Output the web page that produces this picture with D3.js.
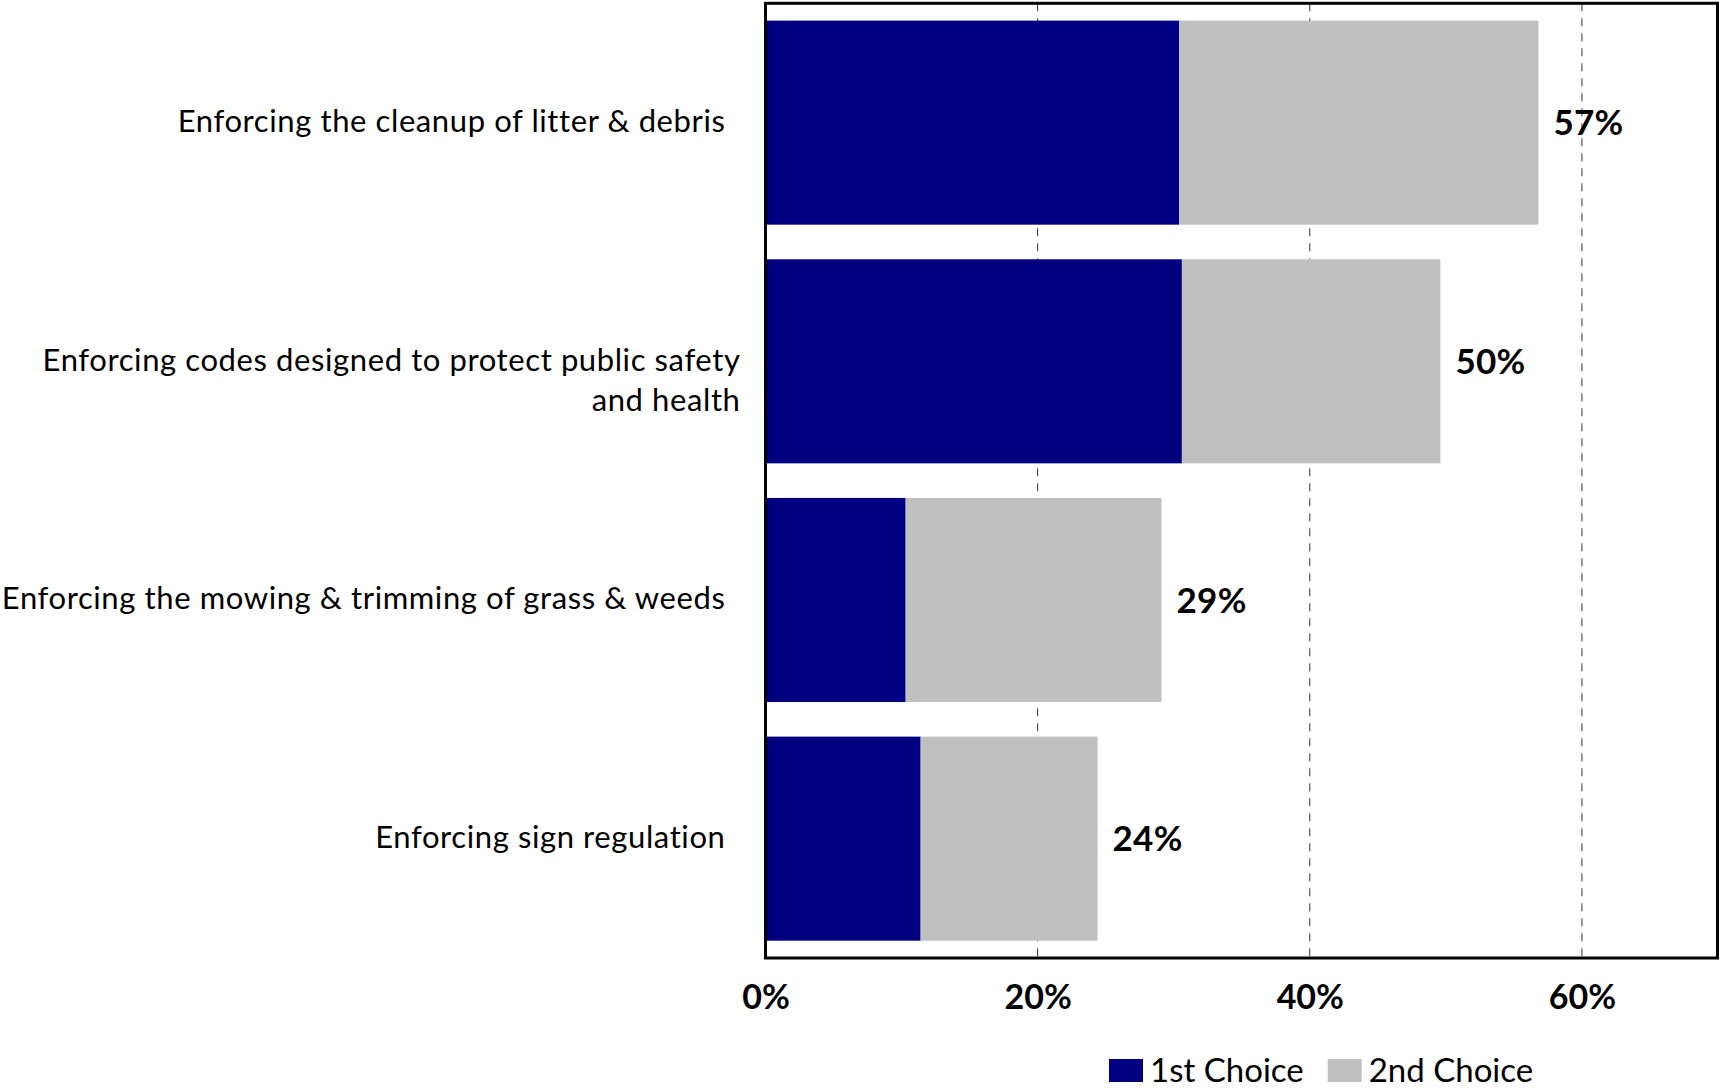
<!DOCTYPE html>
<html>
<head>
<meta charset="utf-8">
<script src="https://cdn.jsdelivr.net/npm/d3@7"></script>
<style>
    body { margin: 0; background: #fff; }
    text { font-family: Lato, "Open Sans", sans-serif; fill: #000; }
</style>
</head>
<body>
<div id="main"></div>
<script>
var ctx = {
    w: 1719,
    h: 1089,
    left: 765.5,
    right: 1718,
    top: 3.3,
    bottom: 958
};

// categories, top to bottom (multi-line labels are split in lines)
var categories = [
    ["Enforcing the cleanup of litter & debris"],
    ["Enforcing codes designed to protect public safety", "and health"],
    ["Enforcing the mowing & trimming of grass & weeds"],
    ["Enforcing sign regulation"]
];
var firstChoice = [0.304, 0.306, 0.103, 0.114];
var secondChoice = [0.264, 0.190, 0.188, 0.130];
var totalLabels = ["57%", "50%", "29%", "24%"];
var seriesNames = ["1st Choice", "2nd Choice"];
var seriesColors = ["#000080", "#c0c0c0"];
var xTicks = [0, 0.2, 0.4, 0.6];

var createViz = function(){
    var svg = d3.select("#main").append("svg")
        .attr("width", ctx.w)
        .attr("height", ctx.h);

    var x = d3.scaleLinear()
        .domain([0, 0.7])
        .range([ctx.left, ctx.right]);

    var y = d3.scaleBand()
        .domain(d3.range(categories.length))
        .range([ctx.top, ctx.bottom])
        .paddingInner(0.145)
        .paddingOuter(0.0725);

    // dashed gridlines
    svg.append("g").selectAll("line")
        .data(xTicks.filter(function(d){ return d > 0; }))
        .enter()
        .append("line")
        .attr("x1", function(d){ return x(d); })
        .attr("x2", function(d){ return x(d); })
        .attr("y1", ctx.top)
        .attr("y2", ctx.bottom)
        .style("stroke", "#333")
        .style("stroke-width", 1)
        .style("stroke-dasharray", "8,7");

    // stacked bars
    var rows = categories.map(function(c, i){
        return { i: i, a: firstChoice[i], b: secondChoice[i] };
    });

    svg.append("g").selectAll("rect")
        .data(rows)
        .enter()
        .append("rect")
        .attr("x", function(d){ return x(0); })
        .attr("y", function(d){ return y(d.i); })
        .attr("width", function(d){ return x(d.a) - x(0); })
        .attr("height", y.bandwidth())
        .style("fill", seriesColors[0]);

    svg.append("g").selectAll("rect")
        .data(rows)
        .enter()
        .append("rect")
        .attr("x", function(d){ return x(d.a); })
        .attr("y", function(d){ return y(d.i); })
        .attr("width", function(d){ return x(d.a + d.b) - x(d.a); })
        .attr("height", y.bandwidth())
        .style("fill", seriesColors[1]);

    // total labels
    svg.append("g").selectAll("text")
        .data(rows)
        .enter()
        .append("text")
        .attr("x", function(d){ return x(d.a + d.b) + 15; })
        .attr("y", function(d){ return y(d.i) + y.bandwidth() / 2; })
        .attr("dy", "0.36em")
        .style("font-size", "35px")
        .style("font-weight", "bold")
        .style("letter-spacing", "0.3px")
        .text(function(d){ return totalLabels[d.i]; });

    // category labels
    var cat = svg.append("g").selectAll("text")
        .data(categories)
        .enter()
        .append("text")
        .attr("text-anchor", "end")
        .attr("y", function(d, i){ return y(i) + y.bandwidth() / 2; })
        .style("font-size", "31px")
        .style("letter-spacing", "0.6px");

    cat.selectAll("tspan")
        .data(function(d){ return d; })
        .enter()
        .append("tspan")
        .attr("x", function(d, j, n){ return n.length > 1 ? x(0) - 25 : x(0) - 40; })
        .attr("dy", function(d, j){ return j == 0 ? "0.3em" : "1.3em"; })
        .text(function(d){ return d; });

    // frame: axis line plus border
    svg.append("rect")
        .attr("x", ctx.left)
        .attr("y", ctx.top)
        .attr("width", ctx.right - 0.5 - ctx.left)
        .attr("height", ctx.bottom - ctx.top)
        .style("fill", "none")
        .style("stroke", "#000")
        .style("stroke-width", 3);

    // x axis tick labels
    var xAxis = d3.axisBottom(x)
        .tickValues(xTicks)
        .tickSize(0)
        .tickPadding(0)
        .tickFormat(d3.format(".0%"));

    var gx = svg.append("g")
        .attr("transform", "translate(0," + ctx.bottom + ")")
        .call(xAxis);
    gx.select(".domain").remove();
    gx.selectAll("text")
        .attr("y", 51)
        .attr("dy", 0)
        .style("font-family", "Lato, sans-serif")
        .style("font-size", "34px")
        .style("font-weight", "bold")
        .style("fill", "#000");

    // legend
    var legend = svg.append("g");
    var lx = 1109;
    seriesNames.forEach(function(name, i){
        legend.append("rect")
            .attr("x", lx)
            .attr("y", 1059)
            .attr("width", 34)
            .attr("height", 23)
            .style("fill", seriesColors[i]);
        var t = legend.append("text")
            .attr("x", lx + 41)
            .attr("y", 1082)
            .style("font-size", "33px")
            .text(name);
        lx = lx + 41 + t.node().getComputedTextLength() + 24;
    });
};

createViz();
</script>
</body>
</html>
